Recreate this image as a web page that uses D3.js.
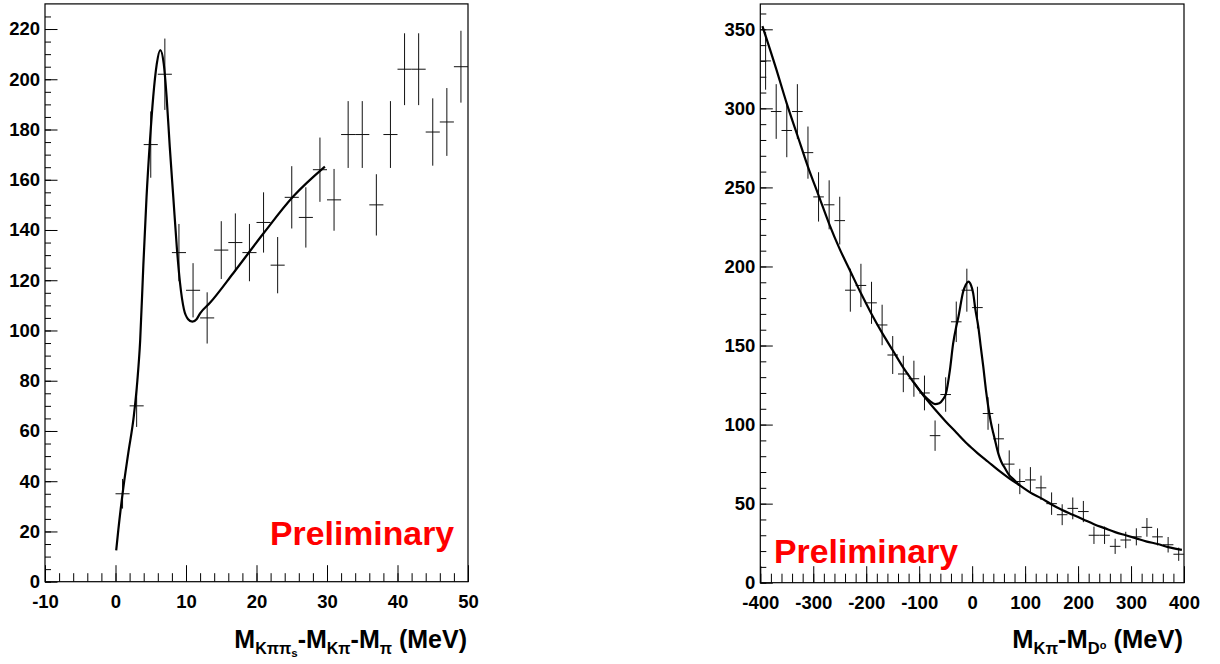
<!DOCTYPE html>
<html>
<head>
<meta charset="utf-8">
<script src="https://cdn.jsdelivr.net/npm/d3@7"></script>
<style>
  body { margin: 0; background: #fff; }
  text { font-family: "Liberation Sans", Arial, sans-serif; font-weight: bold; }
</style>
</head>
<body>
<div id="chart"></div>
<script>
// ---- left panel: M(K pi pi_s) - M(K pi) - M(pi) ----
var leftBins = [1,3,5,7,9,11,13,15,17,19,21,23,25,27,29,31,33,35,37,39,41,43,45,47,49];
var leftCounts = [35,70,174,202,131,116,105,132,135,131,143,126,153,145,164,152,178,178,150,178,204,204,179,183,205];
var leftErrors = [5.9,8.4,13.2,14.2,11.4,10.8,10.2,11.5,11.6,11.4,12,11.2,12.4,12,12.8,12.3,13.3,13.3,12.2,13.3,14.3,14.3,13.4,13.5,14.3];
// fit curve
var leftFitX = [0.1,0.4,1.0,1.8,2.6,3.1,3.5,3.95,4.4,4.9,5.35,5.85,6.35,6.85,7.25,7.7,8.2,8.7,9.15,9.7,10.3,10.9,11.5,12.0,13.4,16.7,21,25.2,29.7];
var leftFitY = [12.5,20.6,35,51,66,80,96,126,153,176,193,206,211.6,206,193,173,153,133,119,108.5,104.5,103.5,104.5,106.8,111,122.8,138.7,153.3,165.2];

// ---- right panel: M(K pi) - M(D0) ----
var rightBins = [-390,-370,-350,-330,-310,-290,-270,-250,-230,-210,-190,-170,-150,-130,-110,-90,-70,-50,-30,-10,
                 10,30,50,70,90,110,130,150,170,190,210,230,250,270,290,310,330,350,370,390];
var rightCounts = [330,298,286,298,272,244,239,229,185,188,177,163,144,132,129,120,93,119,165,185,
                   174,107,91,75,64,65,60,50,43,47,45,30,30,23,27,29,35,29,24,18];
var rightErrors = [18.2,17.3,16.9,17.3,16.5,15.6,15.5,15.1,13.6,13.7,13.3,12.8,12,11.5,11.4,11,9.6,10.9,12.8,13.6,
                   13.2,10.3,9.5,8.7,8,8.1,7.7,7.1,6.6,6.9,6.7,5.5,5.5,4.8,5.2,5.4,5.9,5.4,4.9,4.2];
var rightBkgX = [-396,-370,-350,-330,-310,-290,-270,-250,-230,-210,-190,-170,-150,-130,-110,-90,-70,-50,-30,-10,
                 10,30,50,70,90,110,130,150,170,190,210,230,250,270,290,310,330,350,370,396];
var rightBkgY = [352,325,303,283,263,245,227,211,197,183,170,158,147,136,126.5,117.5,109.5,102,95,88,
                 82,76.5,71,66,61.5,57,53.5,49.5,46,43,40,37,34.5,32,30,28,26,24.5,22.5,20.8];
var rightFitX = [-110,-90,-80,-70,-62,-55,-50,-42,-36,-30,-26,-17,-12,-7,-2,2,6,11.6,16,21,26,30.4,35,40,45,49.3,55,62,70,77.6,90];
var rightFitY = [126.5,118,115,113,113.5,116,119,134.5,151,162,168,184,188.5,190.4,188,183,173,162,150,136.6,122,111.3,102,94.5,87.5,81.8,76.5,72.4,68,65.5,61.5];

var svg = d3.select("#chart").append("svg")
    .attr("width", 1220)
    .attr("height", 664);

function drawPanel(p) {
  var x = d3.scaleLinear().domain(p.xDomain).range(p.xRange);
  var y = d3.scaleLinear().domain(p.yDomain).range(p.yRange);
  var g = svg.append("g");
  var fmt = function(d) { return String(d); };

  // minor ticks first
  g.append("g")
      .attr("transform", "translate(0," + p.yRange[0] + ")")
      .call(d3.axisBottom(x).tickValues(d3.range(p.xDomain[0], p.xDomain[1] + 0.001, p.xMinor)).tickSize(-p.xMinorLen).tickFormat(""))
      .call(function(a) { a.select(".domain").remove(); });
  g.append("g")
      .attr("transform", "translate(0," + p.yRange[0] + ")")
      .call(d3.axisBottom(x).tickValues(d3.range(p.xDomain[0], p.xDomain[1] + 0.001, p.xMajor)).tickSize(-p.xMajorLen).tickPadding(13).tickFormat(fmt))
      .call(function(a) { a.select(".domain").remove(); });
  g.append("g")
      .attr("transform", "translate(" + p.xRange[0] + ",0)")
      .call(d3.axisLeft(y).tickValues(d3.range(0, p.yDomain[1], p.yMinor)).tickSize(-6).tickFormat(""))
      .call(function(a) { a.select(".domain").remove(); });
  g.append("g")
      .attr("transform", "translate(" + p.xRange[0] + ",0)")
      .call(d3.axisLeft(y).tickValues(d3.range(0, p.yDomain[1], p.yMajor)).tickSize(-12.5).tickPadding(5).tickFormat(fmt))
      .call(function(a) { a.select(".domain").remove(); });

  g.selectAll(".tick line").attr("stroke", "#000");
  g.selectAll(".tick text").attr("font-size", 18.5).attr("font-family", null).attr("fill", "#000");

  // frame
  g.append("rect")
      .attr("x", p.xRange[0]).attr("y", p.yRange[1])
      .attr("width", p.xRange[1] - p.xRange[0])
      .attr("height", p.yRange[0] - p.yRange[1])
      .attr("fill", "none").attr("stroke", "#000").attr("stroke-width", 1.2);

  // data crosses
  var pts = g.append("g").attr("stroke", "#111").attr("stroke-width", 1);
  p.bins.forEach(function(c, i) {
    var v = p.counts[i], e = p.errors[i];
    pts.append("line")
        .attr("x1", x(c)).attr("x2", x(c))
        .attr("y1", y(v - e)).attr("y2", y(v + e));
    pts.append("line")
        .attr("x1", x(c - p.binW / 2)).attr("x2", x(c + p.binW / 2))
        .attr("y1", y(v)).attr("y2", y(v));
  });

  // fit curves
  var line = d3.line()
      .x(function(d) { return x(d[0]); })
      .y(function(d) { return y(d[1]); })
      .curve(d3.curveMonotoneX);
  p.curves.forEach(function(cv) {
    g.append("path")
        .datum(d3.zip(cv[0], cv[1]))
        .attr("d", line)
        .attr("fill", "none")
        .attr("stroke", "#000")
        .attr("stroke-width", 2.2);
  });

  g.append("text")
      .attr("x", p.prelim[0]).attr("y", p.prelim[1])
      .attr("fill", "#ff0000")
      .attr("font-size", 33.8)
      .text("Preliminary");
}

drawPanel({
  xDomain: [-10, 50], xRange: [45, 468],
  yDomain: [0, 230], yRange: [581.7, 3.9],
  xMajor: 10, xMinor: 2, yMajor: 20, yMinor: 5,
  xMajorLen: 16.5, xMinorLen: 8.5,
  bins: leftBins, counts: leftCounts, errors: leftErrors, binW: 2,
  curves: [[leftFitX, leftFitY]],
  prelim: [270, 545]
});

drawPanel({
  xDomain: [-400, 400], xRange: [760.3, 1184],
  yDomain: [0, 366], yRange: [582.7, 4.0],
  xMajor: 100, xMinor: 20, yMajor: 50, yMinor: 10,
  xMajorLen: 16.5, xMinorLen: 9,
  bins: rightBins, counts: rightCounts, errors: rightErrors, binW: 20,
  curves: [[rightBkgX, rightBkgY], [rightFitX, rightFitY]],
  prelim: [774, 563]
});

// axis titles with subscripts
var t1 = svg.append("text").attr("x", 467).attr("y", 648).attr("text-anchor", "end").attr("font-size", 25);
t1.append("tspan").text("M");
t1.append("tspan").attr("font-size", 16).attr("dy", 6).text("Kππ");
t1.append("tspan").attr("font-size", 11.5).attr("dy", 3).text("s");
t1.append("tspan").attr("dy", -9).text("-M");
t1.append("tspan").attr("font-size", 16).attr("dy", 6).text("Kπ");
t1.append("tspan").attr("dy", -6).text("-M");
t1.append("tspan").attr("font-size", 16).attr("dy", 6).text("π");
t1.append("tspan").attr("dy", -6).text(" (MeV)");

var t2 = svg.append("text").attr("x", 1183).attr("y", 648).attr("text-anchor", "end").attr("font-size", 25.5);
t2.append("tspan").text("M");
t2.append("tspan").attr("font-size", 16.5).attr("dy", 6).text("Kπ");
t2.append("tspan").attr("dy", -6).text("-M");
t2.append("tspan").attr("font-size", 16.5).attr("dy", 6).text("D");
t2.append("tspan").attr("font-size", 11).attr("dy", -5).text("o");
t2.append("tspan").attr("dy", -1).text(" (MeV)");
</script>
</body>
</html>
